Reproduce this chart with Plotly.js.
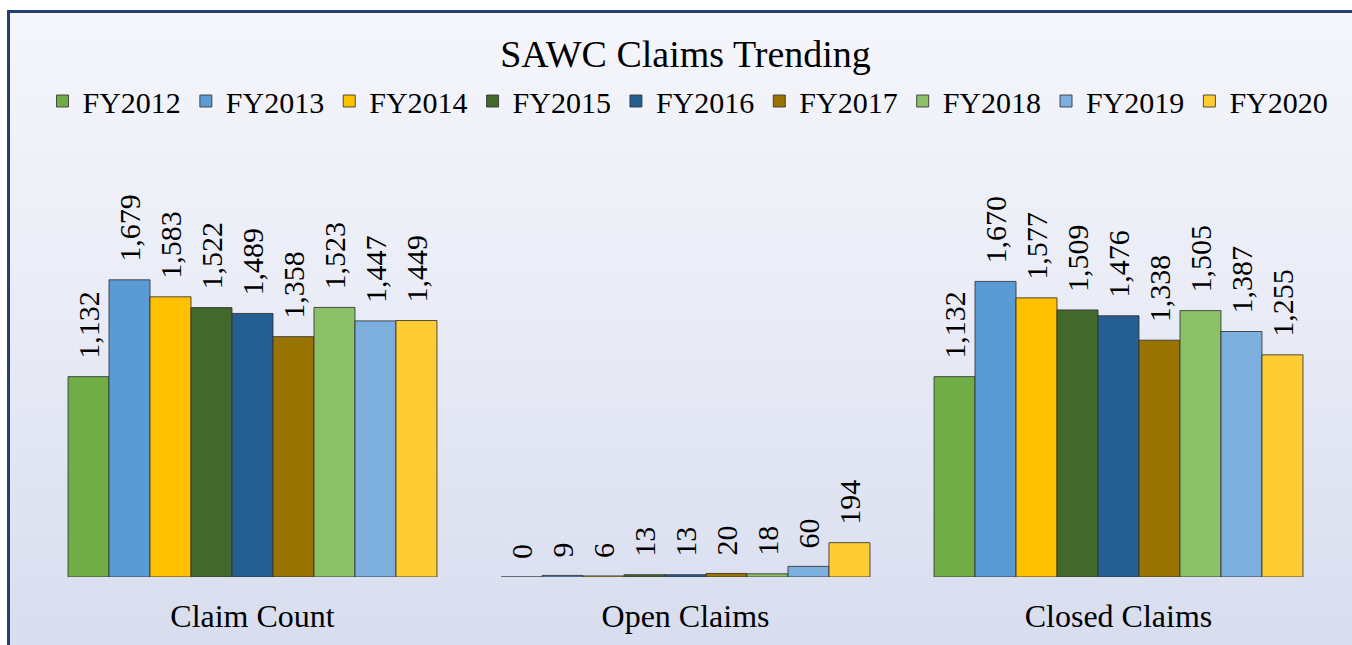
<!DOCTYPE html>
<html>
<head>
<meta charset="utf-8">
<script src="https://cdn.plot.ly/plotly-3.0.1.min.js"></script>
<style>
  html, body { margin: 0; padding: 0; background: #ffffff; overflow: hidden; }
  #frame {
    position: absolute; left: 7px; top: 10px; width: 1400px; height: 700px;
    border-left: 3px solid #243f6e; border-top: 3px solid #243f6e;
    background: linear-gradient(to bottom, #f5f6fb 0px, #e9ecf6 300px, #d8ddef 635px);
  }
  #chart { position: absolute; left: 0; top: 0; width: 1352px; height: 645px; }
</style>
</head>
<body>
<div id="frame"></div>
<div id="chart"></div>
<script>
const categories = ["Claim Count", "Open Claims", "Closed Claims"];
const seriesNames = ["FY2012", "FY2013", "FY2014", "FY2015", "FY2016", "FY2017", "FY2018", "FY2019", "FY2020"];
const FY2012 = [1132, 0, 1132];
const FY2013 = [1679, 9, 1670];
const FY2014 = [1583, 6, 1577];
const FY2015 = [1522, 13, 1509];
const FY2016 = [1489, 13, 1476];
const FY2017 = [1358, 20, 1338];
const FY2018 = [1523, 18, 1505];
const FY2019 = [1447, 60, 1387];
const FY2020 = [1449, 194, 1255];
const seriesValues = [FY2012, FY2013, FY2014, FY2015, FY2016, FY2017, FY2018, FY2019, FY2020];
const seriesColors = ["#70AD47", "#5B9BD5", "#FFC000", "#43682B", "#255E91", "#997300", "#8CC168", "#7CAFDD", "#FFCD33"];

const FONT = "Liberation Serif";
const labelFont = { family: FONT, size: 30, color: "#000000" };

const traces = seriesNames.map((name, i) => ({
  type: "bar",
  name: name,
  x: categories,
  y: seriesValues[i],
  marker: { color: seriesColors[i], line: { color: "rgba(50,50,50,0.85)", width: 1 } },
  texttemplate: "\u00a0\u00a0%{y:,}",
  textposition: "outside",
  textangle: -90,
  constraintext: "none",
  cliponaxis: false,
  textfont: labelFont,
  outsidetextfont: labelFont,
  insidetextfont: labelFont,
  hoverinfo: "x+y+name"
}));

const layout = {
  width: 1352,
  height: 645,
  paper_bgcolor: "rgba(0,0,0,0)",
  plot_bgcolor: "rgba(0,0,0,0)",
  margin: { l: 36, r: 17, t: 223, b: 68, pad: 0 },
  barmode: "group",
  bargap: 0.148,
  bargroupgap: 0,
  font: { family: FONT, color: "#000000" },
  title: {
    text: "SAWC Claims Trending",
    font: { family: FONT, size: 38, color: "#000000" },
    x: 0.5, xref: "paper", xanchor: "center",
    y: 1 - 54 / 645, yref: "container", yanchor: "middle"
  },
  showlegend: true,
  legend: {
    orientation: "h",
    x: 688 / 1352, xref: "container", xanchor: "center",
    y: 1 - 101 / 645, yref: "container", yanchor: "middle",
    font: { family: FONT, size: 30, color: "#000000" },
    bgcolor: "rgba(0,0,0,0)",
    traceorder: "normal"
  },
  xaxis: {
    type: "category",
    showgrid: false, zeroline: false, showline: false, ticks: "",
    ticklabelstandoff: 17,
    tickfont: { family: FONT, size: 32, color: "#000000" },
    fixedrange: true
  },
  yaxis: {
    range: [0, 2000],
    showgrid: false, zeroline: false, showline: false,
    showticklabels: false, ticks: "",
    fixedrange: true
  }
};

Plotly.newPlot("chart", traces, layout, { displayModeBar: false, staticPlot: true });
</script>
</body>
</html>
